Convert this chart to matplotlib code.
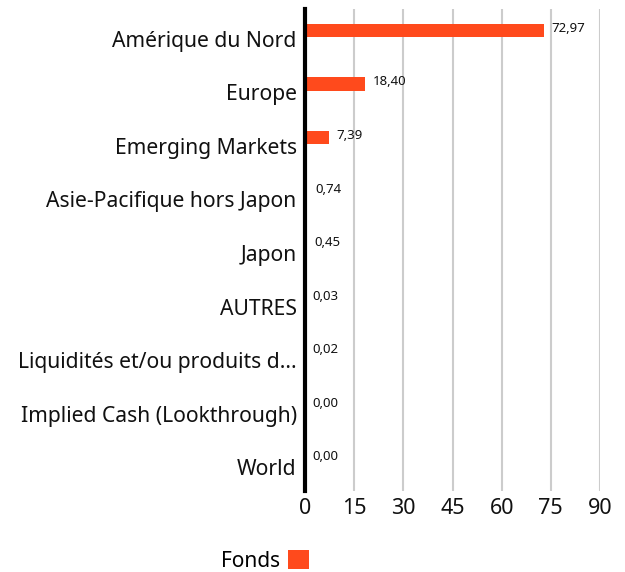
import matplotlib
matplotlib.use("Agg")
import matplotlib.pyplot as plt
import matplotlib.transforms as mtrans
import numpy as np
from matplotlib.patches import Patch

categories = ["Amérique du Nord", "Europe", "Emerging Markets",
              "Asie-Pacifique hors Japon", "Japon", "AUTRES",
              "Liquidités et/ou produits d...", "Implied Cash (Lookthrough)", "World"]
values = [72.97, 18.40, 7.39, 0.74, 0.45, 0.03, 0.02, 0.00, 0.00]
value_labels = ["72,97", "18,40", "7,39", "0,74", "0,45", "0,03", "0,02", "0,00", "0,00"]
xticks = [0, 15, 30, 45, 60, 75, 90]
series_name = "Fonds"

plt.rcParams['font.family'] = ['Noto Sans', 'DejaVu Sans']
BAR = '#FF4A1C'

fig = plt.figure(figsize=(6.25, 5.72), dpi=100)
ax = fig.add_axes([305/625, 1-491/572, 295/625, 482/572])

y = np.arange(len(categories))
off = -0.1
ax.barh(y + off, values, height=0.25, color=BAR, zorder=3)
for yi, v, lab in zip(y, values, value_labels):
    ax.annotate(lab, (v, yi + off), xytext=(5.5, 1.5), textcoords='offset points',
                fontsize=9.5, va='center', ha='left', color='#111111')

ax.set_xlim(0, 90)
ax.set_ylim(len(categories) - 0.5, -0.5)
ax.set_xticks(xticks)
ax.set_xticklabels([str(t) for t in xticks], fontsize=15.5, color='#111111')
ax.set_yticks(y)
ax.set_yticklabels(categories, fontsize=15.2, color='#111111')
ax.tick_params(axis='both', length=0)
ax.tick_params(axis='x', pad=5)
ax.tick_params(axis='y', pad=6)
shift = mtrans.ScaledTranslation(0, -3/100, fig.dpi_scale_trans)
for lab in ax.get_yticklabels():
    lab.set_transform(lab.get_transform() + shift)
ax.grid(axis='x', color='#cccccc', linewidth=1.5, zorder=0)
for s in ['top', 'right', 'bottom']:
    ax.spines[s].set_visible(False)
ax.spines['left'].set_linewidth(3)
ax.spines['left'].set_color('black')
ax.spines['left'].set_zorder(4)

h = [Patch(facecolor=BAR, edgecolor='none', label=series_name)]
fig.legend(handles=h, loc='center', bbox_to_anchor=(265/625, 1-561/572),
           frameon=False, markerfirst=False, fontsize=15, handlelength=1.0,
           handleheight=1.0, handletextpad=0.4)

fig.savefig('out.png', dpi=100)
